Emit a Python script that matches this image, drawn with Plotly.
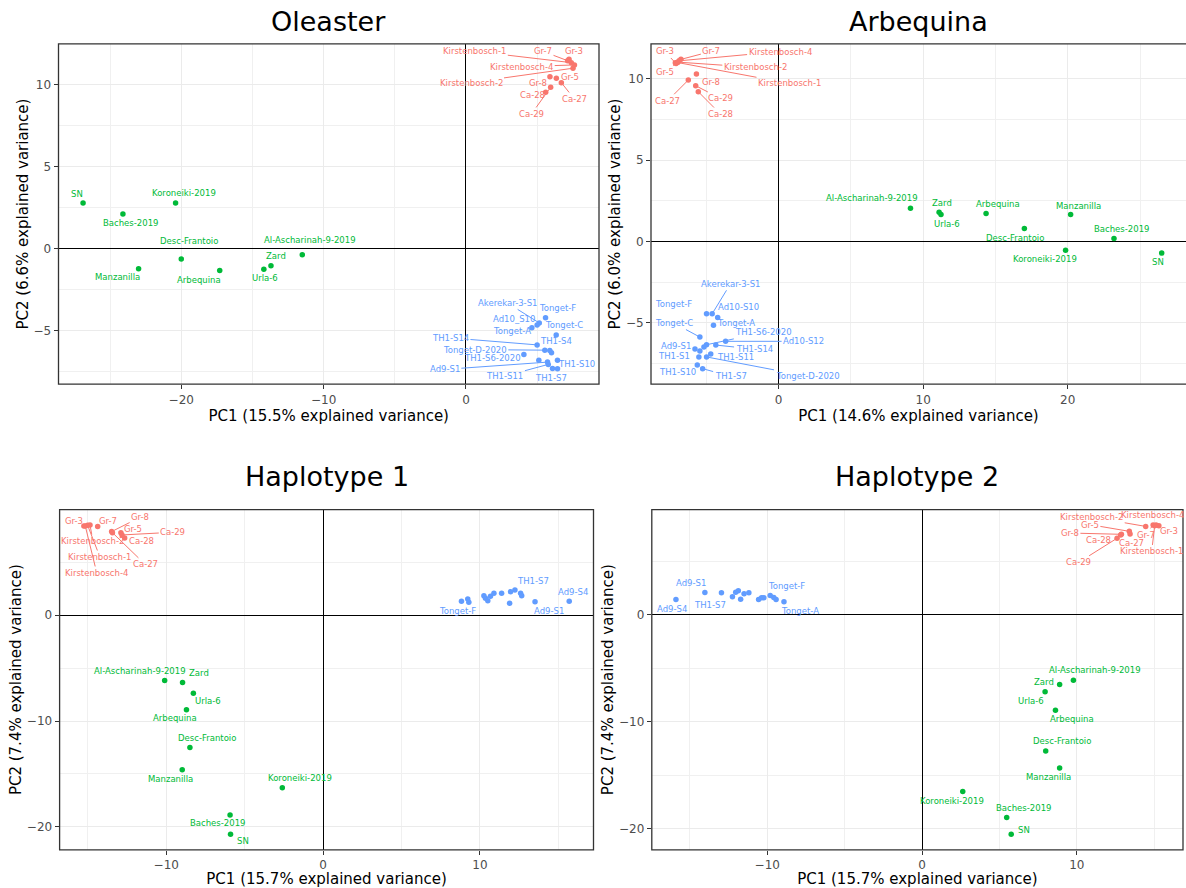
import plotly.graph_objects as go

# ---------------- data ----------------
RED = ["Gr-3", "Gr-5", "Gr-7", "Gr-8", "Kirstenbosch-1", "Kirstenbosch-2",
       "Kirstenbosch-4", "Ca-27", "Ca-28", "Ca-29"]
GREEN = ["SN", "Koroneiki-2019", "Baches-2019", "Desc-Frantoio", "Manzanilla",
         "Arbequina", "Urla-6", "Zard", "Al-Ascharinah-9-2019"]
BLUE = ["Akerekar-3-S1", "Tonget-F", "Tonget-A", "Tonget-C", "Tonget-D-2020",
        "Ad10-S10", "Ad10-S12", "Ad9-S1", "Ad9-S4", "TH1-S1", "TH1-S4",
        "TH1-S6-2020", "TH1-S7", "TH1-S10", "TH1-S11", "TH1-S14"]
SAMPLES = RED + GREEN + BLUE
GROUPS = ["red"] * len(RED) + ["green"] * len(GREEN) + ["blue"] * len(BLUE)

PANEL_TITLES = ["Oleaster", "Arbequina", "Haplotype 1", "Haplotype 2"]
PC1_TITLES = ["PC1 (15.5% explained variance)", "PC1 (14.6% explained variance)",
              "PC1 (15.7% explained variance)", "PC1 (15.7% explained variance)"]
PC2_TITLES = ["PC2 (6.6% explained variance)", "PC2 (6.0% explained variance)",
              "PC2 (7.4% explained variance)", "PC2 (7.4% explained variance)"]

OLEASTER_PC1 = [7.24, 6.35, 7.14, 5.9, 7.4, 7.52, 7.62, 6.7, 5.6, 5.95,
                -26.9, -20.4, -24.1, -20.0, -23.0, -17.3, -14.2, -13.7, -11.5,
                5.15, 5.59, 4.63, 6.34, 5.54, 5.0, 6.01, 5.73, 6.43, 5.12, 5.89,
                4.07, 6.08, 6.43, 5.78, 5.0]
OLEASTER_PC2 = [11.56, 10.41, 11.48, 10.5, 11.36, 11.02, 11.22, 10.14, 9.55, 9.86,
                2.8, 2.8, 2.13, -0.61, -1.2, -1.32, -1.24, -1.02, -0.35,
                -4.51, -4.2, -4.81, -5.24, -6.17, -4.63, -6.33, -6.9, -7.3, -6.78,
                -6.19, -6.43, -7.29, -6.78, -7.04, -5.85]

ARBEQUINA_PC1 = [-7.15, -7.1, -6.76, -5.69, -7.02, -6.97, -6.89, -6.25, -5.56, -5.74,
                 26.5, 19.85, 23.2, 17.0, 20.2, 14.35, 11.23, 11.1, 9.12,
                 -4.6, -4.99, -4.51, -5.45, -4.99, -4.22, -3.67, -5.79, -5.45,
                 -5.52, -5.17, -4.99, -5.26, -5.63, -4.7, -4.35]
ARBEQUINA_PC2 = [10.98, 10.94, 11.19, 10.29, 11.0, 11.02, 11.1, 9.92, 9.2, 9.57,
                 -0.71, -0.53, 0.18, 0.8, 1.66, 1.72, 1.66, 1.8, 2.05,
                 -4.44, -4.44, -5.15, -5.87, -7.09, -4.66, -6.13, -6.6, -6.73,
                 -7.09, -6.48, -6.34, -7.81, -7.58, -6.91, -6.36]

HAP1_PC1 = [-15.25, -12.89, -14.37, -13.48, -15.01, -14.86, -15.16, -13.43, -12.65, -12.82,
            -5.9, -2.6, -5.93, -8.49, -8.98, -8.71, -8.27, -8.96, -10.1,
            10.35, 8.82, 9.22, 9.29, 10.5, 10.25, 10.67, 13.51, 15.69, 11.95,
            11.89, 10.89, 12.23, 12.59, 12.66, 11.38]
HAP1_PC2 = [8.44, 7.81, 8.38, 7.91, 8.5, 8.53, 8.44, 7.81, 7.31, 7.59,
            -20.7, -16.3, -18.87, -12.5, -14.6, -8.92, -7.38, -6.35, -6.16,
            1.6, 1.32, 1.53, 1.22, 1.38, 1.85, 1.79, 1.28, 1.32, 2.22,
            1.13, 2.07, 2.38, 2.07, 1.85, 2.07]

HAP2_PC1 = [15.3, 13.39, 14.93, 12.88, 15.03, 14.45, 15.12, 13.44, 12.83, 12.6,
            5.76, 2.63, 5.47, 7.99, 8.89, 8.62, 7.95, 8.89, 9.78,
            -10.22, -9.81, -8.92, -9.43, -10.56, -9.58, -10.37, -14.03, -15.9,
            -11.87, -11.72, -11.19, -12.96, -12.04, -12.25, -11.5]
HAP2_PC2 = [8.32, 7.8, 8.39, 7.52, 8.32, 8.26, 8.39, 7.55, 7.46, 7.15,
            -20.53, -16.53, -18.95, -12.74, -14.32, -8.92, -7.21, -6.52, -6.12,
            1.58, 1.8, 1.21, 1.43, 1.43, 1.62, 1.58, 2.08, 1.43,
            2.24, 1.46, 2.05, 2.05, 2.11, 1.68, 1.96]

OLEASTER_RENAME = {"Ad10-S10": "Ad10_S10"}

# ---------------- layout / label placement (pixels) ----------------
COLORS = {"red": "#F8766D", "green": "#00BA38", "blue": "#619CFF"}
W, H = 1186, 888
FONT = "DejaVu Sans"

# panel boxes: left, right, top, bottom in px
BOXES = [(58.5, 599, 44, 385), (651, 1186, 44, 385),
         (59.6, 593.5, 510.7, 851.7), (651.8, 1183, 510.7, 851.7)]
Y_DTICK = [5, 5, 10, 10]
X_TITLE_STANDOFF = [3, 3, 5, 5]

# label offsets: name -> (dx px, dy px downward, leader line?)
LABELS = [
    {  # Oleaster
        "Gr-3": (4.6, -8, False), "Gr-7": (-24.6, -9.3, True),
        "Kirstenbosch-1": (-96.5, -11.3, True), "Kirstenbosch-4": (-52.7, 1.7, True),
        "Kirstenbosch-2": (-102, 14.3, True), "Gr-5": (13.5, -1.7, False),
        "Gr-8": (-11.5, 6, False), "Ca-27": (13, 16.3, True),
        "Ca-28": (-13.5, 2.7, False), "Ca-29": (-19.2, 26.7, True),
        "SN": (-5.8, -9.3, False), "Koroneiki-2019": (8, -10.3, False),
        "Baches-2019": (7.7, 9, False), "Desc-Frantoio": (7.7, -17.7, False),
        "Manzanilla": (-21, 8.7, False), "Arbequina": (-21, 9, False),
        "Urla-6": (1, 8.7, False), "Zard": (5, -9.3, False),
        "Al-Ascharinah-9-2019": (7.3, -14.3, False),
        "Akerekar-3-S1": (-32, -20, True), "Tonget-F": (11.7, -10, False),
        "Ad10-S10": (-23, -6, False), "Tonget-A": (-20.3, 2.7, False),
        "Tonget-C": (8, -10.3, False), "TH1-S4": (5.7, -9.3, False),
        "TH1-S14": (-86.7, -7, True), "Tonget-D-2020": (-70, -0.5, True),
        "TH1-S6-2020": (-31.3, 3.5, False), "TH1-S10": (19, 4.3, False),
        "Ad9-S1": (-102.7, 7.3, True), "TH1-S11": (-43.3, 11.7, True),
        "TH1-S7": (-2, 9.3, False),
    },
    {  # Arbequina
        "Gr-3": (-10.5, -11.3, True), "Gr-5": (-11.3, 8.7, True),
        "Gr-7": (30.4, -8, True), "Kirstenbosch-4": (101, -9.3, True),
        "Kirstenbosch-2": (77.4, 5.3, True), "Kirstenbosch-1": (112.3, 21, True),
        "Gr-8": (15, 8.3, False), "Ca-27": (-20.7, 20.7, True),
        "Ca-29": (24.8, 12.7, True), "Ca-28": (22.2, 22.3, True),
        "Al-Ascharinah-9-2019": (-38.7, -9.7, False), "Zard": (2.6, -9.7, False),
        "Urla-6": (5.6, 9.3, False), "Arbequina": (12.4, -9.3, False),
        "Manzanilla": (7.5, -8.7, False), "Desc-Frantoio": (-9.4, 9, False),
        "Baches-2019": (7.5, -9.7, False), "Koroneiki-2019": (-20.7, 8.7, False),
        "SN": (-4.1, 9, False),
        "Akerekar-3-S1": (18.3, -30, True), "Tonget-F": (-32.7, -9.7, False),
        "Ad10-S10": (21, -10, False), "Tonget-A": (22.7, -2.3, False),
        "Tonget-C": (-26, -14, True), "TH1-S6-2020": (57.3, -12.3, True),
        "Ad10-S12": (78, 0, True), "TH1-S14": (38.3, 4, True),
        "Ad9-S1": (-19, -2.7, False), "TH1-S1": (-24.7, -1.3, False),
        "TH1-S11": (24.7, 3, False), "TH1-S10": (-20, 7.3, False),
        "TH1-S7": (28, 7.7, True), "Tonget-D-2020": (101, 19.3, True),
    },
    {  # Haplotype 1
        "Gr-3": (-10, -4.7, False), "Gr-7": (10.8, -5.3, False),
        "Gr-8": (28.5, -14.3, True), "Gr-5": (12.3, -3.7, False),
        "Ca-29": (50.8, -2.7, True), "Ca-28": (16.5, 3, False),
        "Kirstenbosch-2": (3, 16, True), "Kirstenbosch-1": (12.3, 31.7, True),
        "Kirstenbosch-4": (11.5, 47, True), "Ca-27": (32.7, 31.7, True),
        "Al-Ascharinah-9-2019": (-25, -9.7, False), "Zard": (16.2, -9, False),
        "Urla-6": (14.6, 8, False), "Arbequina": (-11.5, 8.3, False),
        "Desc-Frantoio": (17, -9.7, False), "Manzanilla": (-12, 9, False),
        "Koroneiki-2019": (17.7, -9.7, False), "Baches-2019": (-12.3, 8, False),
        "SN": (12.3, 6.3, False),
        "Tonget-F": (-4.3, 10, False), "TH1-S7": (18.3, -9.3, False),
        "Ad9-S1": (14, 9, False), "Ad9-S4": (4, -9, False),
    },
    {  # Haplotype 2
        "Kirstenbosch-2": (-54, -9.3, True), "Kirstenbosch-4": (-3.8, -10.3, False),
        "Gr-5": (-39.4, -6.7, True), "Gr-8": (-51.5, -1.3, True),
        "Ca-28": (-22.2, 4.7, False), "Ca-27": (1.5, 9.3, False),
        "Gr-7": (-7.5, 9.8, True), "Gr-3": (10.5, 5.7, False),
        "Kirstenbosch-1": (-3, 25.7, True), "Ca-29": (-38.3, 24, True),
        "Al-Ascharinah-9-2019": (21.4, -9.7, False), "Zard": (-15.4, -2.3, False),
        "Urla-6": (-13.9, 8.7, False), "Arbequina": (16.9, 8.7, False),
        "Desc-Frantoio": (16.5, -10, False), "Manzanilla": (-11.6, 8.7, False),
        "Koroneiki-2019": (-10.9, 9, False), "Baches-2019": (16.5, -9.7, False),
        "SN": (12.8, -4.7, False),
        "Ad9-S4": (-4, 9.3, False), "Ad9-S1": (-14, -9.3, False),
        "TH1-S7": (-11, 11.7, False), "Tonget-F": (16, -9.3, False),
        "Tonget-A": (16, 9.3, False),
    },
]

PANELS = [(OLEASTER_PC1, OLEASTER_PC2), (ARBEQUINA_PC1, ARBEQUINA_PC2),
          (HAP1_PC1, HAP1_PC2), (HAP2_PC1, HAP2_PC2)]


def expand(v):
    lo, hi = min(v), max(v)
    pad = 0.05 * (hi - lo)
    return [lo - pad, hi + pad]


fig = go.Figure()
annotations = []
shapes = []
layout_axes = {}

for i, (pc1, pc2) in enumerate(PANELS):
    n = i + 1
    xa = "x" if n == 1 else f"x{n}"
    ya = "y" if n == 1 else f"y{n}"
    left, right, top, bottom = BOXES[i]
    xdom = [left / W, min(right / W, 1.0)]
    ydom = [(H - bottom) / H, (H - top) / H]

    for g in ["red", "green", "blue"]:
        idx = [k for k, gg in enumerate(GROUPS) if gg == g]
        fig.add_trace(go.Scatter(
            x=[pc1[k] for k in idx], y=[pc2[k] for k in idx],
            text=[SAMPLES[k] for k in idx], mode="markers",
            marker=dict(size=5.5, color=COLORS[g], line=dict(width=0)),
            xaxis=xa, yaxis=ya, showlegend=False, hoverinfo="text"))

    axis_common = dict(
        showgrid=True, gridcolor="#EBEBEB", gridwidth=1.1,
        zeroline=True, zerolinecolor="black", zerolinewidth=1.4,
        showline=False, ticks="outside", ticklen=4, tickwidth=1,
        tickcolor="#333333", tick0=0,
        tickfont=dict(family=FONT, size=12, color="#4D4D4D"),
        title_font=dict(family=FONT, size=15, color="black"),
    )
    layout_axes["xaxis" if n == 1 else f"xaxis{n}"] = dict(
        axis_common, domain=xdom, range=expand(pc1), dtick=10, anchor=ya,
        minor=dict(dtick=5, showgrid=True, gridcolor="#F0F0F0", gridwidth=0.6, ticklen=0),
        title=dict(text=PC1_TITLES[i], standoff=X_TITLE_STANDOFF[i]))
    layout_axes["yaxis" if n == 1 else f"yaxis{n}"] = dict(
        axis_common, domain=ydom, range=expand(pc2), dtick=Y_DTICK[i], anchor=xa,
        minor=dict(dtick=Y_DTICK[i] / 2, showgrid=True, gridcolor="#F0F0F0",
                   gridwidth=0.6, ticklen=0),
        title=dict(text=PC2_TITLES[i], standoff=1))

    # panel border (right edge of the Arbequina panel lies past the page edge)
    shapes.append(dict(type="rect", xref=f"{xa} domain", yref=f"{ya} domain",
                       x0=0, x1=1.02 if i == 1 else 1, y0=0, y1=1,
                       line=dict(color="#333333", width=1.3), layer="above"))

    # title
    annotations.append(dict(
        text=PANEL_TITLES[i], xref="paper", yref="paper",
        x=(left + right) / 2 / W if i != 1 else (left + 1186) / 2 / W,
        y=1 - (22 if i < 2 else 478) / H, showarrow=False,
        xanchor="center", yanchor="middle",
        font=dict(family=FONT, size=27, color="black")))

    # point labels
    for name, (dx, dy, line) in LABELS[i].items():
        k = SAMPLES.index(name)
        txt = OLEASTER_RENAME.get(name, name) if i == 0 else name
        col = COLORS[GROUPS[k]]
        a = dict(text=txt, x=pc1[k], y=pc2[k], xref=xa, yref=ya,
                 font=dict(family=FONT, size=8.5, color=col))
        if line:
            a.update(showarrow=True, ax=dx, ay=dy, arrowhead=0, arrowwidth=1,
                     arrowcolor=col, standoff=0, startstandoff=0, borderpad=1)
        else:
            a.update(showarrow=False, xshift=dx, yshift=-dy)
        annotations.append(a)

fig.update_layout(
    width=W, height=H, margin=dict(l=0, r=0, t=0, b=0),
    paper_bgcolor="white", plot_bgcolor="white",
    annotations=annotations, shapes=shapes, **layout_axes)

fig.write_html("out.html")
